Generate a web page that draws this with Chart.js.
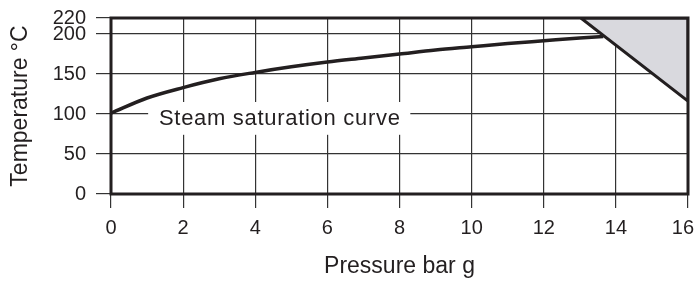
<!DOCTYPE html>
<html>
<head>
<meta charset="utf-8">
<script src="https://cdn.jsdelivr.net/npm/chart.js@4"></script>
<style>
    html, body { margin: 0; padding: 0; background: #ffffff; }
    #wrap { width: 695px; height: 281px; }
</style>
</head>
<body>
<div id="wrap"><canvas id="steam-chart" width="695" height="281"></canvas></div>
<script>
// Steam saturation curve
const pressure = [0, 1, 2, 3, 4, 5, 6, 7, 8, 9, 10, 11, 12, 13, 13.65];
const temperature = [101, 120, 133, 144, 152, 159, 165, 170, 175, 180, 184, 188, 191.5, 195, 197];

// Grey superheat corner
const cornerX = [13.03, 16, 16, 13.03];
const cornerY = [220, 220, 116, 220];

// Axis ticks
const yTicks = [0, 50, 100, 150, 200, 220];

const INK = '#231f20';
const FONT = "'Liberation Sans', Arial, Helvetica, sans-serif";

Chart.defaults.color = INK;
Chart.defaults.font.family = FONT;

function toPoints(xs, ys) {
    return xs.map((x, i) => ({ x: x, y: ys[i] }));
}

// White-backed label sitting on the 100 gridline
const curveLabel = {
    id: 'curveLabel',
    beforeDatasetsDraw(chart) {
        const ctx = chart.ctx;
        const x = chart.scales.x;
        const y = chart.scales.y;
        const left = x.getPixelForValue(1.03);
        const right = x.getPixelForValue(8.3);
        const top = y.getPixelForValue(115);
        const bottom = y.getPixelForValue(74);
        ctx.save();
        ctx.fillStyle = '#ffffff';
        ctx.fillRect(left, top, right - left, bottom - top);
        ctx.fillStyle = INK;
        ctx.font = '22px ' + FONT;
        ctx.letterSpacing = '0.7px';
        ctx.textBaseline = 'alphabetic';
        ctx.fillText('Steam saturation curve', x.getPixelForValue(1.33), y.getPixelForValue(86));
        ctx.restore();
    }
};

// Keep the last x label ("16") inside the canvas, flush right
const lastLabelInside = {
    id: 'lastLabelInside',
    beforeDraw(chart) {
        const items = chart.scales.x.getLabelItems();
        const last = items[items.length - 1];
        if (!last) return;
        last.options.textAlign = 'right';
        last.options.translation[0] = chart.width - 1;
    }
};

// Heavy frame round the plot area
const plotFrame = {
    id: 'plotFrame',
    afterDatasetsDraw(chart) {
        const a = chart.chartArea;
        const ctx = chart.ctx;
        ctx.save();
        ctx.strokeStyle = INK;
        ctx.lineWidth = 3;
        ctx.strokeRect(a.left, a.top, a.right - a.left, a.bottom - a.top);
        ctx.restore();
    }
};

new Chart(document.getElementById('steam-chart'), {
    type: 'scatter',
    data: {
        datasets: [
            {
                label: 'Superheat',
                data: toPoints(cornerX, cornerY),
                showLine: true,
                fill: 'shape',
                backgroundColor: '#d9d9de',
                borderColor: INK,
                borderWidth: 3,
                pointRadius: 0,
                tension: 0
            },
            {
                label: 'Steam saturation curve',
                data: toPoints(pressure, temperature),
                showLine: true,
                fill: false,
                borderColor: INK,
                borderWidth: 3.5,
                pointRadius: 0,
                tension: 0.4,
                cubicInterpolationMode: 'monotone'
            }
        ]
    },
    options: {
        responsive: false,
        animation: false,
        devicePixelRatio: 1,
        layout: {
            padding: { top: 18, right: 7, bottom: 0, left: 0 }
        },
        plugins: {
            legend: { display: false },
            tooltip: { enabled: false }
        },
        scales: {
            x: {
                type: 'linear',
                min: 0,
                max: 16,
                border: { display: false },
                grid: {
                    color: '#333333',
                    lineWidth: 1.2,
                    tickLength: 14,
                    tickColor: '#333333'
                },
                ticks: {
                    stepSize: 2,
                    padding: 8,
                    maxRotation: 0,
                    font: { size: 20 }
                },
                title: {
                    display: true,
                    text: 'Pressure bar g',
                    font: { size: 23 },
                    padding: { top: 0, bottom: 1 }
                },
                afterFit(scale) {
                    scale.height = 87;
                    scale.paddingLeft = 0;
                    scale.paddingRight = 0;
                }
            },
            y: {
                type: 'linear',
                min: 0,
                max: 220,
                border: { display: false },
                grid: {
                    color: '#333333',
                    lineWidth: 1.2,
                    tickLength: 15,
                    tickColor: '#333333'
                },
                ticks: {
                    padding: 10,
                    font: { size: 20 }
                },
                afterBuildTicks(scale) {
                    scale.ticks = yTicks.map(v => ({ value: v }));
                },
                title: {
                    display: true,
                    text: 'Temperature °C',
                    font: { size: 23 },
                    padding: { top: 7, bottom: 0 }
                },
                afterFit(scale) {
                    scale.width = 111;
                    scale.paddingTop = 0;
                    scale.paddingBottom = 0;
                }
            }
        }
    },
    plugins: [curveLabel, lastLabelInside, plotFrame]
});
</script>
</body>
</html>
